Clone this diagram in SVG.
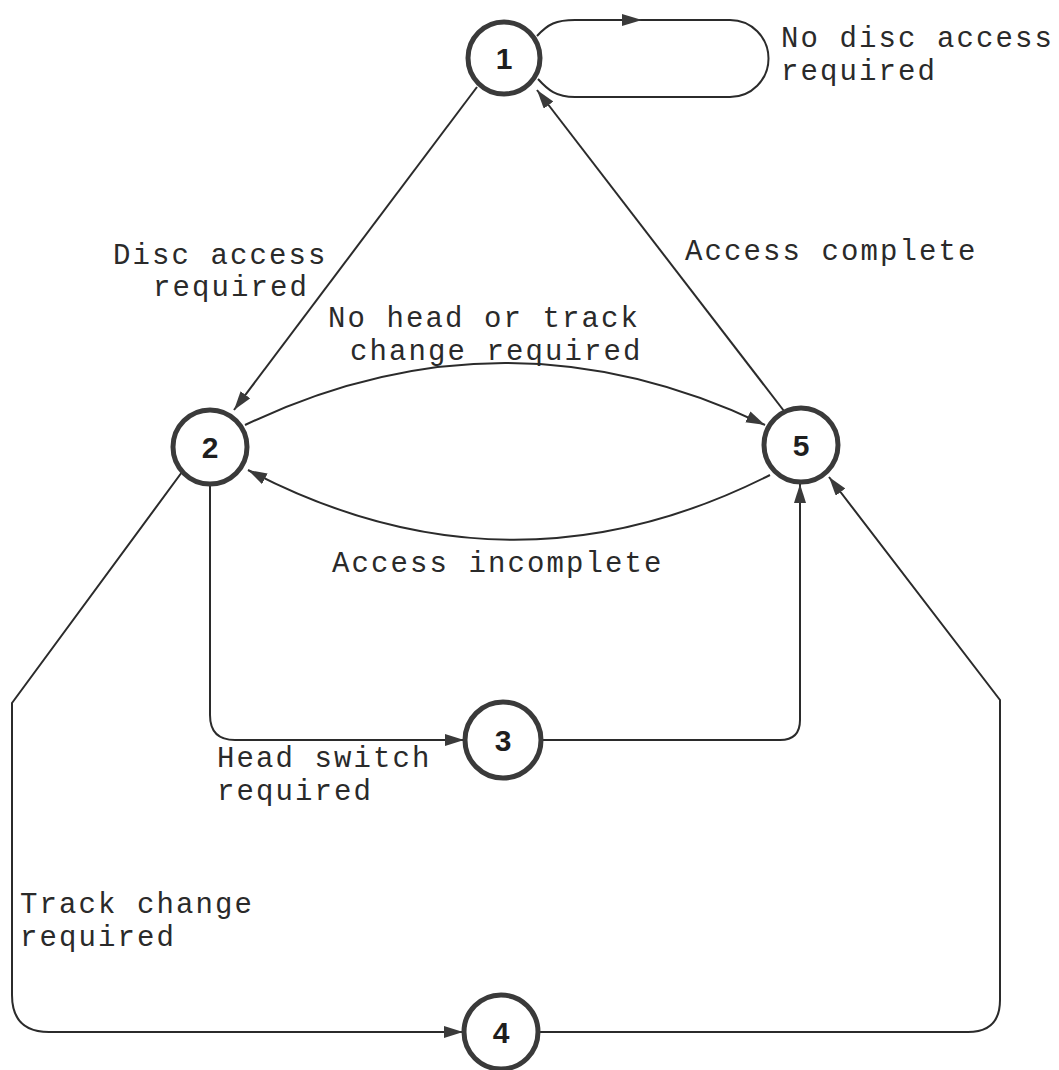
<svg xmlns="http://www.w3.org/2000/svg" width="1059" height="1070" viewBox="0 0 1059 1070">
<style>
.edge{fill:none;stroke:#2b2b2b;stroke-width:2;marker-end:url(#arr)}
.plain{fill:none;stroke:#2b2b2b;stroke-width:2}
.node circle{fill:#fff;stroke:#3a3a3a;stroke-width:5}
.num{font-family:"Liberation Sans",Arial,sans-serif;font-weight:bold;font-size:30px;fill:#1e1e1e;text-anchor:middle}
.lbl{font-family:"Liberation Mono","Courier New",monospace;font-size:29px;letter-spacing:2.1px;fill:#2a2a2a}
</style>
<defs>
<marker id="arr" markerUnits="userSpaceOnUse" markerWidth="20" markerHeight="14" refX="19" refY="6" orient="auto">
<path d="M0,0 L19,6 L0,12 Z" fill="#3a3a3a"/>
</marker>
</defs>
<rect width="1059" height="1070" fill="#fff"/>
<g id="connectors">
<path class="plain" d="M537,36 C548,24 556,20 575,20 L730,20 A38.5,38.5 0 0 1 730,97 L575,97 C556,97 548,90 538,79"/>
<path d="M622,14 L642,20 L622,26 Z" fill="#3a3a3a"/>
<path class="edge" d="M477,87 L234,410"/>
<path class="edge" d="M784,411 L537,90"/>
<path class="edge" d="M245,425 Q505,301 765,425"/>
<path class="edge" d="M770,475 Q509,607 248,470"/>
<path class="edge" d="M210,485 L210,715 Q210,740 235,740 L464,740"/>
<path class="edge" d="M541,740 L780,740 Q800,740 800,720 L800,484"/>
<path class="edge" d="M182,472 L12,703 L12,995 Q12,1032 49,1032 L463,1032"/>
<path class="edge" d="M539,1032 L968,1032 Q1000,1032 1000,1000 L1000,700 L829,477"/>
</g>
<g id="node1" class="node"><circle cx="504" cy="58" r="36"/><text class="num" x="504" y="69">1</text></g>
<g id="node2" class="node"><circle cx="210" cy="447" r="37"/><text class="num" x="210" y="458">2</text></g>
<g id="node3" class="node"><circle cx="503" cy="740" r="38"/><text class="num" x="503" y="751">3</text></g>
<g id="node4" class="node"><circle cx="501" cy="1032" r="37"/><text class="num" x="501" y="1043">4</text></g>
<g id="node5" class="node"><circle cx="801" cy="445" r="37"/><text class="num" x="801" y="456">5</text></g>
<g id="labels">
<text class="lbl" x="781" y="47">No disc access</text>
<text class="lbl" x="781" y="80">required</text>
<text class="lbl" x="113" y="264">Disc access</text>
<text class="lbl" x="153" y="296">required</text>
<text class="lbl" x="685" y="260">Access complete</text>
<text class="lbl" x="328" y="327">No head or track</text>
<text class="lbl" x="350" y="360">change required</text>
<text class="lbl" x="332" y="572">Access incomplete</text>
<text class="lbl" x="217" y="767">Head switch</text>
<text class="lbl" x="217" y="800">required</text>
<text class="lbl" x="20" y="913">Track change</text>
<text class="lbl" x="20" y="946">required</text>
</g>
</svg>
